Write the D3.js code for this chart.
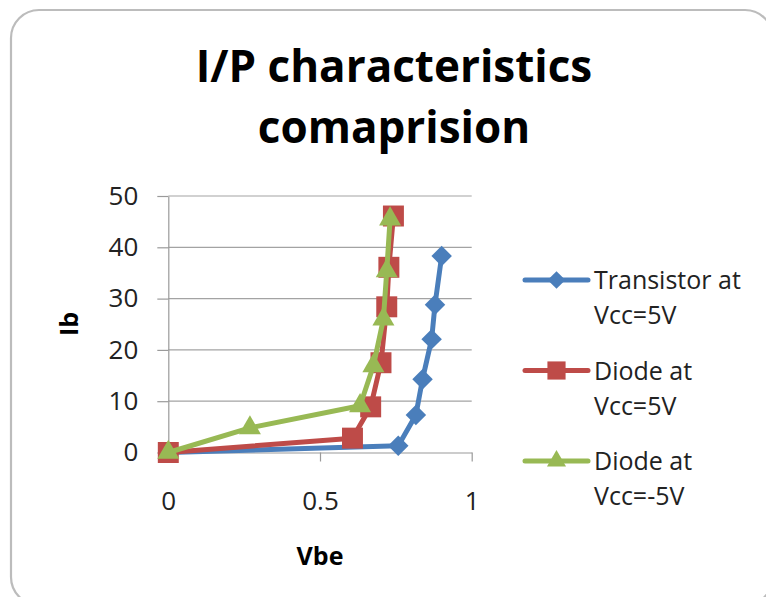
<!DOCTYPE html>
<html>
<head>
<meta charset="utf-8">
<script src="https://cdn.jsdelivr.net/npm/d3@7"></script>
<style>
body { margin: 0; background: #fff; }
text { font-family: "Open Sans", sans-serif; }
</style>
</head>
<body>
<script>
// Chart values.
var titleLines = ["I/P characteristics", "comaprision"];
var xLabel = "Vbe", yLabel = "Ib";
var xTicks = [0, 0.5, 1];
var yTicks = [0, 10, 20, 30, 40, 50];

var seriesLabels = [["Transistor at", "Vcc=5V"], ["Diode at", "Vcc=5V"], ["Diode at", "Vcc=-5V"]];
var vbeTransistor = [0, 0.758, 0.816, 0.838, 0.868, 0.879, 0.901];
var ibTransistor  = [0, 1.3, 7.3, 14.3, 22.1, 28.8, 38.3];
var vbeDiodePos   = [0, 0.607, 0.667, 0.701, 0.72, 0.727, 0.742];
var ibDiodePos    = [0, 2.8, 8.9, 17.5, 28.4, 36.1, 46.1];
var vbeDiodeNeg   = [0, 0.269, 0.632, 0.676, 0.709, 0.72, 0.731];
var ibDiodeNeg    = [0, 4.8, 9.1, 16.9, 26.0, 35.4, 45.5];

var colors = ["#4a7ebb", "#be4b48", "#98b954"];

var W = 766, H = 597;
var margin = {top: 196, left: 168.3},
    width = 303.4,
    height = 256.5;

var svg = d3.select("body")
            .append("svg")
            .attr("width", W)
            .attr("height", H);

// Rounded chart border (runs off the bottom right of the picture).
svg.append("rect")
   .attr("x", 11).attr("y", 10)
   .attr("width", 762).attr("height", 595)
   .attr("rx", 28)
   .attr("fill", "#fff")
   .attr("stroke", "#bcbcbc")
   .attr("stroke-width", 2.2);

// Title
svg.selectAll(".title")
   .data(titleLines)
   .enter()
   .append("text")
   .attr("class", "title")
   .attr("x", 394)
   .attr("y", function(d, i) {return 82 + i * 61;})
   .attr("text-anchor", "middle")
   .attr("font-size", 44)
   .attr("font-weight", "bold")
   .attr("fill", "#000")
   .text(function(d) {return d;});

var g = svg.append("g")
           .attr("transform", "translate(" + margin.left + "," + margin.top + ")");

var xScale = d3.scaleLinear().domain([0, 1]).range([0, width]);
var yScale = d3.scaleLinear().domain([0, 50]).range([height, 0]);

// Horizontal gridlines
g.selectAll(".grid")
 .data(yTicks.slice(1))
 .enter()
 .append("line")
 .attr("class", "grid")
 .attr("x1", 0).attr("x2", width)
 .attr("y1", function(d) {return yScale(d);})
 .attr("y2", function(d) {return yScale(d);})
 .attr("stroke", "#a3a3a3")
 .attr("stroke-width", 1.2);

var yAxis = g.append("g")
             .call(d3.axisLeft(yScale)
                     .tickValues(yTicks)
                     .tickSize(11)
                     .tickSizeOuter(0)
                     .tickPadding(19));

var xAxis = g.append("g")
             .attr("transform", "translate(0," + height + ")")
             .call(d3.axisBottom(xScale)
                     .tickValues(xTicks)
                     .tickFormat(d3.format("~g"))
                     .tickSize(9)
                     .tickSizeOuter(0)
                     .tickPadding(30));

[xAxis, yAxis].forEach(function(ax) {
    ax.selectAll("path, line").attr("stroke", "#9a9a9a").attr("stroke-width", 1.2);
    ax.selectAll("text")
      .attr("font-family", "'Open Sans', sans-serif")
      .attr("font-size", 26)
      .attr("fill", "#222");
});

// Axis titles
svg.append("text")
   .attr("transform", "translate(78,324) rotate(-90)")
   .attr("text-anchor", "middle")
   .attr("font-size", 25)
   .attr("font-weight", "bold")
   .attr("fill", "#000")
   .text(yLabel);

svg.append("text")
   .attr("x", margin.left + xScale(0.5))
   .attr("y", 565)
   .attr("text-anchor", "middle")
   .attr("font-size", 25)
   .attr("font-weight", "bold")
   .attr("fill", "#000")
   .text(xLabel);

// Series
var series = [
    {pts: d3.zip(vbeTransistor, ibTransistor), symbol: d3.symbolSquare, size: 210, rotate: 45},
    {pts: d3.zip(vbeDiodePos, ibDiodePos), symbol: d3.symbolSquare, size: 440, rotate: 0},
    {pts: d3.zip(vbeDiodeNeg, ibDiodeNeg), symbol: d3.symbolTriangle, size: 210, rotate: 0}
];

var line = d3.line()
             .x(function(d) {return xScale(d[0]);})
             .y(function(d) {return yScale(d[1]);});

series.forEach(function(s, i) {
    var sg = g.append("g");
    sg.append("path")
      .datum(s.pts)
      .attr("d", line)
      .attr("fill", "none")
      .attr("stroke", colors[i])
      .attr("stroke-width", 5)
      .attr("stroke-linejoin", "round");
    sg.selectAll(".marker")
      .data(s.pts)
      .enter()
      .append("path")
      .attr("transform", function(d) {
          return "translate(" + xScale(d[0]) + "," + yScale(d[1]) + ") rotate(" + s.rotate + ")";
      })
      .attr("d", d3.symbol().type(s.symbol).size(s.size))
      .attr("fill", colors[i]);
});

// Legend
var legend = svg.selectAll(".legend")
                .data(series)
                .enter()
                .append("g")
                .attr("class", "legend")
                .attr("transform", function(d, i) {return "translate(0," + (280 + i * 90.5) + ")";});

legend.append("line")
      .attr("x1", 525).attr("x2", 588)
      .attr("stroke", function(d, i) {return colors[i];})
      .attr("stroke-width", 5)
      .attr("stroke-linecap", "round");

legend.append("path")
      .attr("transform", function(d) {return "translate(556.5,0) rotate(" + d.rotate + ")";})
      .attr("d", function(d) {return d3.symbol().type(d.symbol).size(d.size * 0.75)();})
      .attr("fill", function(d, i) {return colors[i];});

legend.selectAll("text")
      .data(function(d, i) {return seriesLabels[i];})
      .enter()
      .append("text")
      .attr("x", 594)
      .attr("y", function(d, j) {return 9 + j * 35;})
      .attr("font-size", 25)
      .attr("fill", "#222")
      .text(function(d) {return d;});
</script>
</body>
</html>
